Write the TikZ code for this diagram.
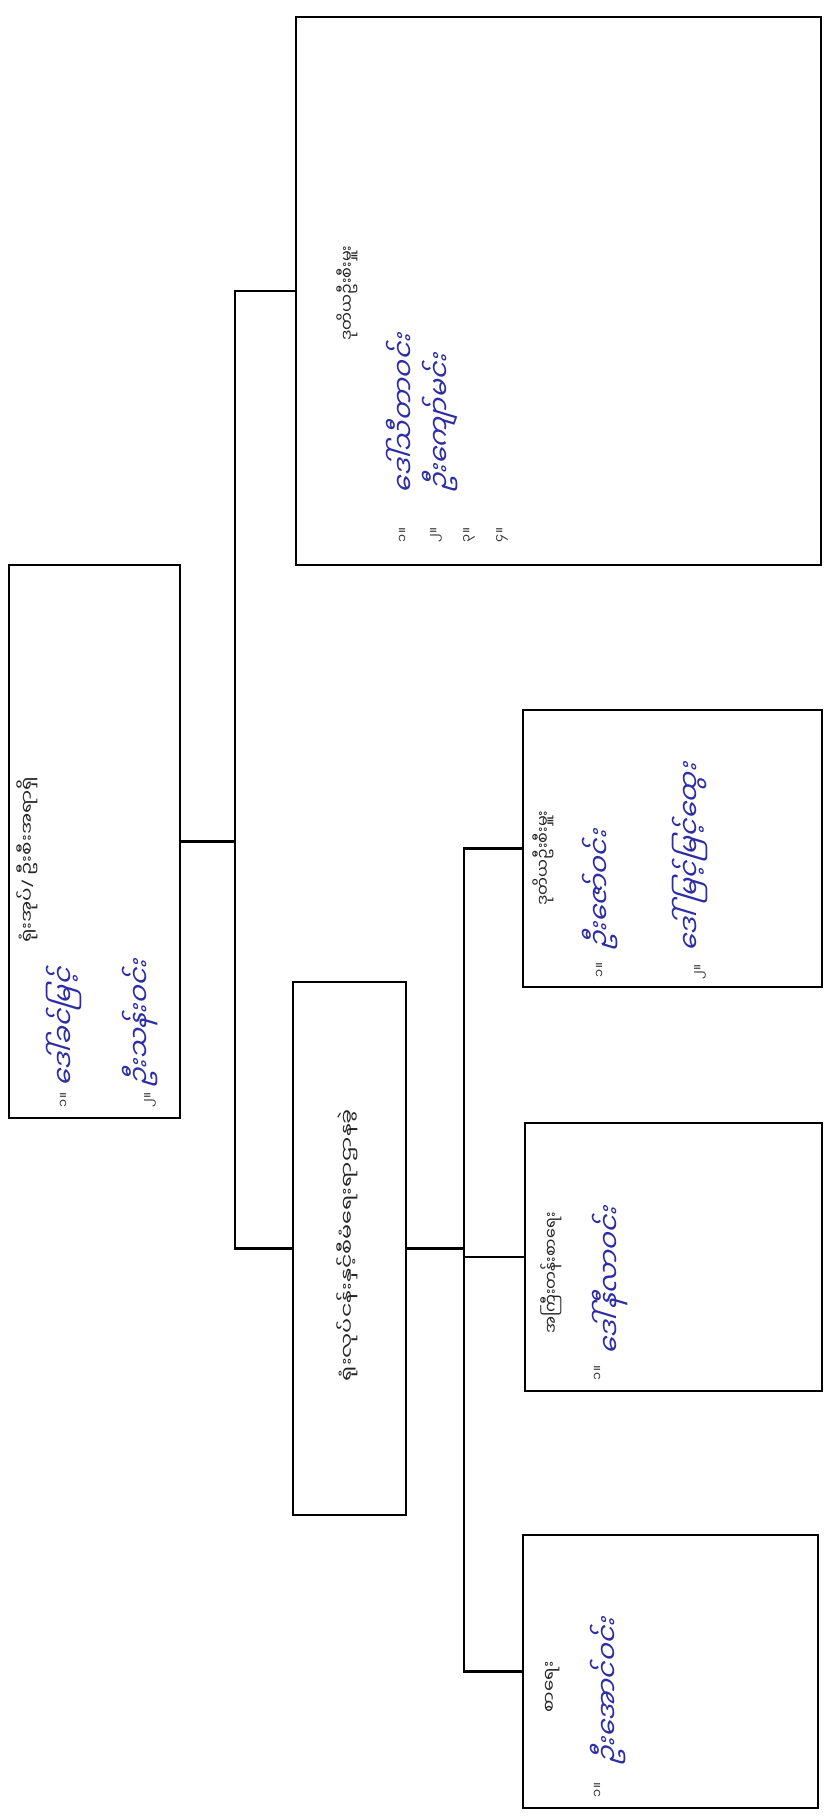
\documentclass[tikz,border=0pt]{standalone}
\usepackage{fontspec}
\newfontfamily\mya[Script=Myanmar]{Noto Sans Myanmar UI}
\newfontfamily\lat{Noto Sans}
\definecolor{ink}{RGB}{45,45,165}
\begin{document}
\begin{tikzpicture}[x=1bp,y=1bp,
  box/.style={draw=black, line width=1.8bp, inner sep=0pt, fill=none},
  conn/.style={line width=2.8bp, line cap=rect},
  ptxt/.style={font=\mya\fontsize{16}{19}\selectfont, text=black!85, rotate=90, inner sep=0pt},
  ntxt/.style={font=\mya\fontsize{13}{15}\selectfont, text=black!80, rotate=90, inner sep=0pt},
  htxt/.style={font=\mya\fontsize{27}{31}\selectfont, text=ink, rotate=90, xslant=0.3, inner sep=0pt}]
\useasboundingbox (0,0) rectangle (835,-1818);
\fill[white] (0,0) rectangle (835,-1818);

% boxes
\node[box, minimum width=171bp, minimum height=553bp] (root) at (94.5,-841.5) {};
\node[box, minimum width=525bp, minimum height=548bp] (big) at (558.5,-291) {};
\node[box, minimum width=113bp, minimum height=533bp] (mid) at (349.5,-1248.5) {};
\node[box, minimum width=299bp, minimum height=277bp] (b1) at (672.5,-848.5) {};
\node[box, minimum width=297bp, minimum height=268bp] (b2) at (673.5,-1257) {};
\node[box, minimum width=295bp, minimum height=273bp] (b3) at (670.5,-1671.5) {};

% connectors
\coordinate (ubR) at (235,-841.5);
\coordinate (ubT) at (235,-291);
\coordinate (ubB) at (235,-1248.5);
\coordinate (lbM) at (464,-1248.5);
\coordinate (lb1) at (464,-848.5);
\coordinate (lb2) at (464,-1257);
\coordinate (lb3) at (464,-1671.5);
\draw[conn] (root.east) -- (ubR);
\draw[conn] (ubT) -- (ubB);
\draw[conn] (ubT) -- (big.west);
\draw[conn] (ubB) -- (mid.west);
\draw[conn] (mid.east) -- (lbM);
\draw[conn] (lb1) -- (lb3);
\draw[conn] (lb1) -- (b1.west);
\draw[conn] (lb2) -- (b2.west);
\draw[conn] (lb3) -- (b3.west);

% root texts
\node[ptxt, xscale=1.25] (rootT) at (27,-860) {ရုံးအုပ်{\lat/} ဦးစီးအရာရှိ};
\node[ntxt] (rootN1) at (64,-1100) {၁။};
\node[htxt, anchor=west] (rootH1) at (64,-1085) {ဒေါ်ခင်မြင့်};
\node[ntxt] (rootN2) at (150,-1100) {၂။};
\node[htxt, anchor=west] (rootH2) at (140,-1085) {ဦးသန်းဝင်း};

% big box
\node[ptxt] (bigT) at (347,-293) {ဒုတိယဦးစီးမှူး};
\node[ntxt] (bigN1) at (403,-535) {၁။};
\node[ntxt] (bigN2) at (436,-535) {၂။};
\node[ntxt] (bigN3) at (469,-535) {၃။};
\node[ntxt] (bigN4) at (502,-535) {၄။};
\node[htxt, anchor=west] (bigH1) at (400,-490) {ဒေါ်သီတာဝင်း};
\node[htxt, anchor=west] (bigH2) at (440,-490) {ဦးကျော်မင်း};

% middle box
\node[ptxt, xscale=1.4] (midT) at (347,-1245) {ရုံးလုပ်ငန်းနှင့်စီမံရေးရာဌာနခွဲ};

% box 1
\node[ptxt] (b1T) at (543,-858) {ဒုတိယဦးစီးမှူး};
\node[ntxt] (b1N1) at (600,-970) {၁။};
\node[htxt, anchor=west] (b1H1) at (600,-948) {ဦးဇော်ဝင်း};
\node[ntxt] (b1N2) at (700,-972) {၂။};
\node[htxt, anchor=west] (b1H2) at (690,-950) {ဒေါ်မြင့်မြင့်ထွေး};

% box 2
\node[ptxt] (b2T) at (551,-1273) {အကြီးတန်းစာရေး};
\node[ntxt] (b2N1) at (598,-1373) {၁။};
\node[htxt, anchor=west] (b2H1) at (610,-1353) {ဒေါ်နီလာဝင်း};

% box 3
\node[ptxt, xscale=1.15] (b3T) at (553,-1687) {စာရေး};
\node[ntxt] (b3N1) at (598,-1790) {၁။};
\node[htxt, anchor=west] (b3H1) at (608,-1763) {ဦးအောင်ဝင်း};
\end{tikzpicture}
\end{document}
